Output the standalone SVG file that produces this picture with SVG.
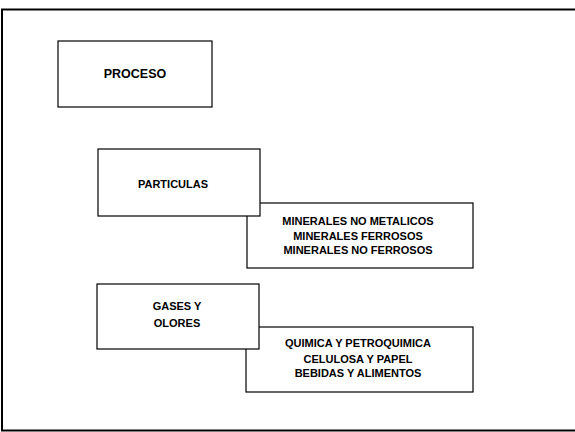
<svg xmlns="http://www.w3.org/2000/svg" width="575" height="432" viewBox="0 0 575 432">
<style>
.box{fill:#fff;stroke:#000;stroke-width:1.2}
.t{font-family:"Liberation Sans",Arial,sans-serif;font-weight:bold;font-size:11px;fill:#000;text-anchor:middle}
</style>
<rect x="0" y="0" width="575" height="432" fill="#fff"/>
<g id="frame"><rect x="2" y="9.5" width="590" height="421" fill="none" stroke="#000" stroke-width="2"/></g>
<g id="connectors"></g>
<g id="proceso"><rect class="box" x="58" y="41" width="154" height="66"/><text class="t" x="135" y="78" style="font-size:12.5px">PROCESO</text></g>
<g id="minerales"><rect class="box" x="247" y="203" width="226" height="65"/>
<text class="t" x="358" y="225">MINERALES NO METALICOS</text>
<text class="t" x="358" y="240">MINERALES FERROSOS</text>
<text class="t" x="358" y="254">MINERALES NO FERROSOS</text></g>
<g id="particulas"><rect class="box" x="98" y="149" width="162" height="67"/><text class="t" x="173" y="188">PARTICULAS</text></g>
<g id="quimica"><rect class="box" x="246" y="327" width="227" height="65"/>
<text class="t" x="358" y="347">QUIMICA Y PETROQUIMICA</text>
<text class="t" x="358" y="363">CELULOSA Y PAPEL</text>
<text class="t" x="358" y="377">BEBIDAS Y ALIMENTOS</text></g>
<g id="gases"><rect class="box" x="97" y="284" width="162" height="65"/>
<text class="t" x="177" y="310">GASES Y</text>
<text class="t" x="177" y="327">OLORES</text></g>
</svg>
